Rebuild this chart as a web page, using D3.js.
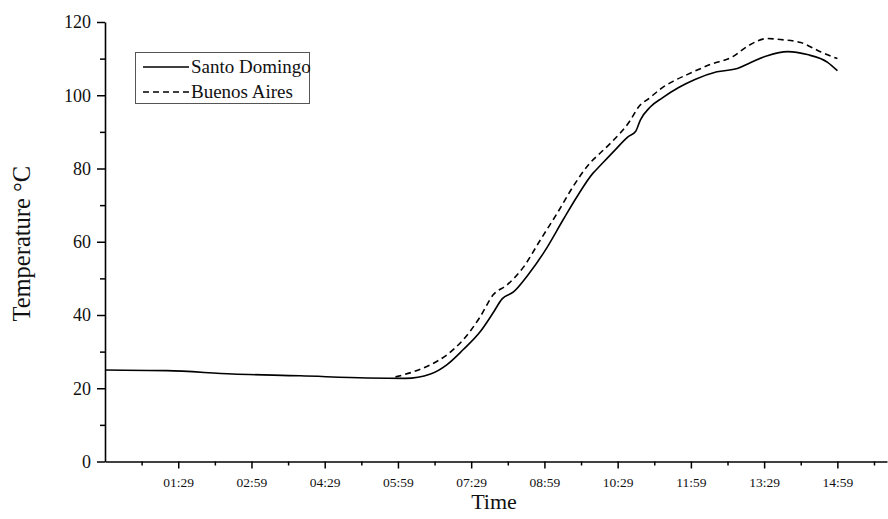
<!DOCTYPE html>
<html>
<head>
<meta charset="utf-8">
<script src="https://cdn.jsdelivr.net/npm/d3@7"></script>
<style>
  html, body { margin: 0; padding: 0; background: #fff; }
  svg { display: block; }
  text { font-family: "Liberation Serif", "Times New Roman", serif; fill: #111; }
</style>
</head>
<body>
<svg id="chart" width="888" height="519"></svg>
<script>
// ---- data (time in minutes from start, temperature in °C) ----
const sdTime = [-1, 75, 156, 239, 321, 368, 399, 419, 439, 460, 476, 487, 501, 519, 539, 562, 579, 599, 605, 626, 642, 651, 657, 669, 684, 704, 724, 751, 776, 792, 813, 838, 862, 887, 899];
const sdTemp = [25.0, 24.8, 23.9, 23.4, 22.8, 22.7, 23.9, 26.4, 30.5, 35.4, 40.6, 44.4, 46.3, 51.0, 57.3, 66.0, 72.3, 78.8, 80.2, 85.1, 88.7, 90.1, 93.3, 96.8, 99.3, 102.1, 104.3, 106.4, 107.3, 108.9, 110.8, 111.9, 111.1, 109.0, 106.7];

const baTime = [356, 378, 399, 419, 439, 460, 476, 493, 513, 534, 555, 574, 595, 608, 622, 645, 654, 669, 684, 697, 715, 743, 771, 788, 813, 829, 854, 878, 899];
const baTemp = [23.1, 24.5, 26.4, 29.1, 33.2, 39.5, 45.5, 48.2, 53.0, 60.5, 67.9, 75.0, 81.5, 84.3, 87.3, 93.3, 96.6, 99.4, 102.1, 103.8, 105.7, 108.4, 110.6, 113.3, 115.5, 115.2, 114.4, 111.9, 110.0];

const xTickValues = [89, 179, 269, 359, 449, 539, 629, 719, 809, 899];
const xTickLabels = ["01:29", "02:59", "04:29", "05:59", "07:29", "08:59", "10:29", "11:59", "13:29", "14:59"];
const xMinorTicks = [44, 134, 224, 314, 404, 494, 584, 674, 764, 854, 944];
const yTickValues = [0, 20, 40, 60, 80, 100, 120];
const yMinorTicks = [10, 30, 50, 70, 90, 110];

const seriesNames = ["Santo Domingo", "Buenos Aires"];

// ---- layout ----
const svg = d3.select("#chart");
const x0 = 105, x1 = 887, yTop = 22, yBot = 461.5;

const x = d3.scaleLinear().domain([-1, 960]).range([x0, x1]);
const y = d3.scaleLinear().domain([0, 120]).range([yBot, yTop]);

// X axis major
const gx = svg.append("g").attr("transform", `translate(0,${yBot})`)
  .call(d3.axisBottom(x).tickValues(xTickValues)
    .tickFormat((d, i) => xTickLabels[i]).tickSize(7).tickPadding(9).tickSizeOuter(0));
gx.select(".domain").attr("stroke", "#000").attr("stroke-width", 1.6);
gx.selectAll(".tick line").attr("stroke", "#000").attr("stroke-width", 1.5);
gx.selectAll(".tick text").style("font-family", '"Liberation Serif", serif').style("font-size", "13.5px").attr("fill", "#111");

// X axis minor
const gxm = svg.append("g").attr("transform", `translate(0,${yBot})`)
  .call(d3.axisBottom(x).tickValues(xMinorTicks).tickFormat("").tickSize(4).tickSizeOuter(0));
gxm.select(".domain").remove();
gxm.selectAll(".tick line").attr("stroke", "#000").attr("stroke-width", 1.5);

// Y axis major
const gy = svg.append("g").attr("transform", `translate(${x0},0)`)
  .call(d3.axisLeft(y).tickValues(yTickValues).tickSize(8).tickPadding(6).tickSizeOuter(0));
gy.select(".domain").attr("stroke", "#000").attr("stroke-width", 1.6);
gy.selectAll(".tick line").attr("stroke", "#000").attr("stroke-width", 1.5);
gy.selectAll(".tick text").style("font-family", '"Liberation Serif", serif').style("font-size", "18px").attr("fill", "#111");

// Y axis minor
const gym = svg.append("g").attr("transform", `translate(${x0},0)`)
  .call(d3.axisLeft(y).tickValues(yMinorTicks).tickFormat("").tickSize(5).tickSizeOuter(0));
gym.select(".domain").remove();
gym.selectAll(".tick line").attr("stroke", "#000").attr("stroke-width", 1.5);

// Axis titles
svg.append("text")
  .attr("x", (x0 + x1) / 2 - 2).attr("y", 509)
  .attr("text-anchor", "middle")
  .style("font-size", "22px")
  .text("Time");

svg.append("text")
  .attr("transform", `translate(30,${(yTop + yBot) / 2 + 2}) rotate(-90)`)
  .attr("text-anchor", "middle")
  .style("font-size", "24.5px")
  .text("Temperature °C");

// Lines
const line = d3.line().x(d => x(d[0])).y(d => y(d[1])).curve(d3.curveMonotoneX);
const sdData = sdTime.map((t, i) => [t, sdTemp[i]]);
const baData = baTime.map((t, i) => [t, baTemp[i]]);

svg.append("path").datum(baData)
  .attr("d", line).attr("fill", "none").attr("stroke", "#000")
  .attr("stroke-width", 1.6).attr("stroke-dasharray", "6,4");

svg.append("path").datum(sdData)
  .attr("d", line).attr("fill", "none").attr("stroke", "#000")
  .attr("stroke-width", 1.6);

// Legend
const lg = svg.append("g");
lg.append("rect").attr("x", 135.5).attr("y", 52.5).attr("width", 174).attr("height", 51)
  .attr("fill", "#fff").attr("stroke", "#555").attr("stroke-width", 1);
const rows = [{ y: 67, dash: null }, { y: 92, dash: "6,4" }];
rows.forEach((r, i) => {
  lg.append("line").attr("x1", 143).attr("x2", 189).attr("y1", r.y).attr("y2", r.y)
    .attr("stroke", "#000").attr("stroke-width", 1.6)
    .attr("stroke-dasharray", r.dash);
  lg.append("text").attr("x", 191).attr("y", r.y).attr("dy", "0.33em")
    .style("font-size", "19px").text(seriesNames[i]);
});
</script>
</body>
</html>
